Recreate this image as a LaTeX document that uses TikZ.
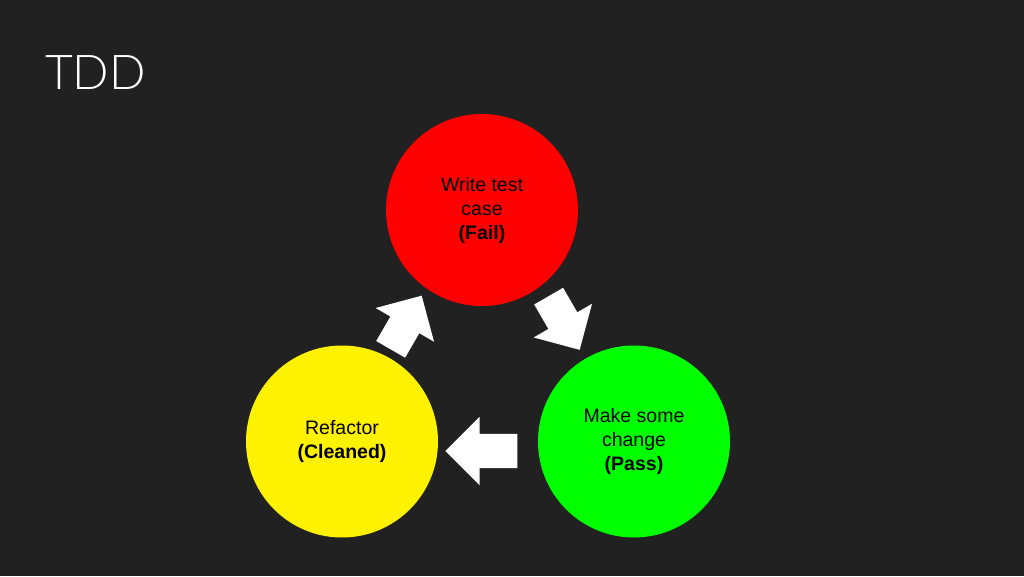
\documentclass[tikz,border=0pt]{standalone}
\usepackage{fontspec}
\setmainfont{Liberation Sans}
\newfontfamily\titlefont{Lato Light}
\usepackage{xcolor}
\usetikzlibrary{positioning, shapes.arrows, calc}
\definecolor{slide}{HTML}{212121}

\begin{document}
\begin{tikzpicture}[x=1pt, y=1pt, node distance=2cm, on grid,
    stage/.style={circle, minimum size=192pt, inner sep=0pt, align=center,
        text=black, font=\fontsize{19.5}{24}\selectfont},
    turn/.style={single arrow, fill=white, inner xsep=0pt, outer sep=0pt,
        minimum height=#1}]
        \fill[slide] (0,0) rectangle (1024,576);
        \useasboundingbox (0,0) rectangle (1024,576);

        \node[anchor=base west, inner sep=0pt, text=white, font=\titlefont\fontsize{48}{50}\selectfont]
            (title) at (45,486) {TDD};

        \node[stage, fill=red] (fail) at (482,366) {Write test\\case\\\textbf{(Fail)}};
        \node[stage, fill=green] (pass) [below right=231.5pt and 152pt of fail]
            {Make some\\change\\\textbf{(Pass)}};
        \node[stage, fill=yellow] (clean) [left=292pt of pass]
            {Refactor\\\textbf{(Cleaned)}};

        % the cycle
        \node[turn=62pt, inner ysep=16.5pt, single arrow head extend=17pt, rotate=-60]
            (fail2pass) at ($(fail)!0.5!(pass)+(2,10)$) {};
        \node[turn=72pt, inner ysep=17pt, single arrow head extend=17pt, rotate=180]
            (pass2clean) at ($(pass)!0.5!(clean)+(2,-9.5)$) {};
        \node[turn=62pt, inner ysep=16.5pt, single arrow head extend=17pt, rotate=60]
            (clean2fail) at ($(clean)!0.5!(fail)+(-10,-4)$) {};
    \end{tikzpicture}
\end{document}
